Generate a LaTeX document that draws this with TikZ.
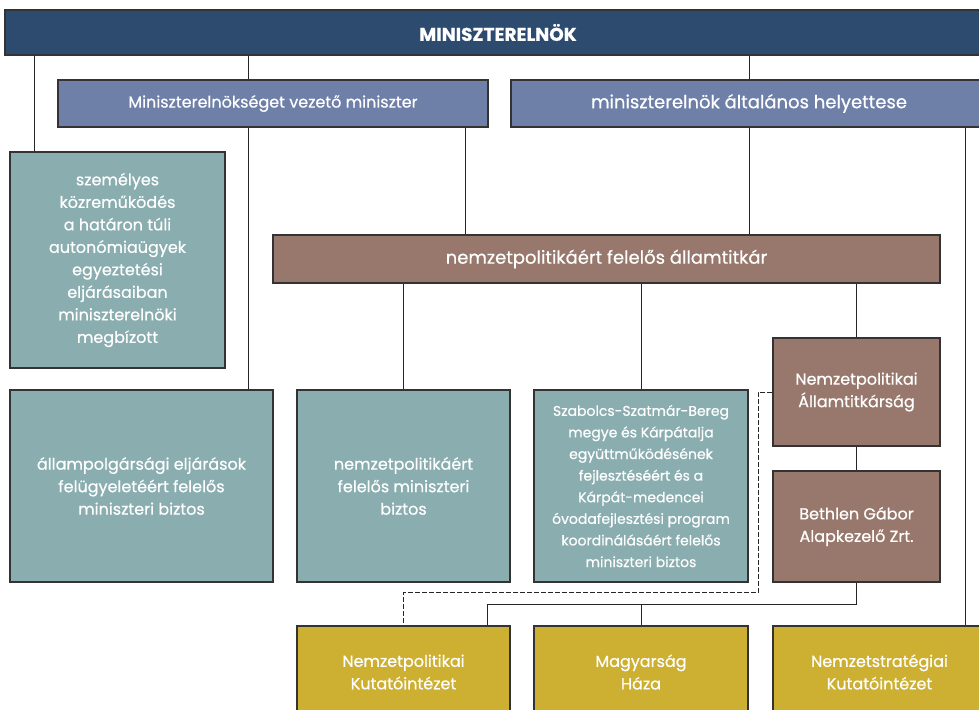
\documentclass[tikz,border=0pt]{standalone}
\usepackage{fontspec}
\setmainfont{Poppins}[FakeBold=0.5]
\usetikzlibrary{backgrounds,calc}

\definecolor{pmblue}{HTML}{2D4A6F}
\definecolor{minblue}{HTML}{6F80A8}
\definecolor{bizteal}{HTML}{8AADB0}
\definecolor{titkbrown}{HTML}{98786C}
\definecolor{intgold}{HTML}{CDB032}

\tikzset{
  box/.style={draw=black!80, line width=1.2pt, text=white, align=center, inner sep=0pt,
    font=\fontsize{16}{22.5}\selectfont},
  link/.style={draw=black!85, line width=1pt},
}

\begin{document}
\begin{tikzpicture}[x=1pt,y=-1pt]
\useasboundingbox (0,0) rectangle (979,709);
\clip (0,0) rectangle (979,709);

% levels from the top
\node[box, fill=pmblue, minimum width=986, minimum height=45, font=\fontsize{18.5}{20}\bfseries] (pm) at (498,32.5) {MINISZTERELNÖK};
\node[box, fill=minblue, minimum width=430, minimum height=47] (minister) at (273,103.5) {Miniszterelnökséget vezető miniszter};
\node[box, fill=minblue, minimum width=476, minimum height=47, font=\fontsize{18}{20}\selectfont] (deputy) at (749,103.5) {miniszterelnök általános helyettese};
\node[box, fill=bizteal, minimum width=215, minimum height=216] (personal) at (117.5,260)
  {személyes\\közreműködés\\a határon túli\\autonómiaügyek\\egyeztetési\\eljárásaiban\\miniszterelnöki\\megbízott};
\node[box, fill=titkbrown, minimum width=667, minimum height=48, font=\fontsize{18}{20}\selectfont] (secretary) at (606.5,259) {nemzetpolitikáért felelős államtitkár};

\node[box, fill=bizteal, minimum width=263, minimum height=192] (citizen) at (141.5,486)
  {állampolgársági eljárások\\felügyeletéért felelős\\miniszteri biztos};
\node[box, fill=bizteal, minimum width=213, minimum height=192] (policycomm) at (403.5,486)
  {nemzetpolitikáért\\felelős miniszteri\\biztos};
\node[box, fill=bizteal, minimum width=214, minimum height=192, font=\fontsize{14}{21.6}\selectfont] (szabolcs) at (641,486)
  {Szabolcs-Szatmár-Bereg\\megye és Kárpátalja\\együttműködésének\\fejlesztéséért és a\\Kárpát-medencei\\óvodafejlesztési program\\koordinálásáért felelős\\miniszteri biztos};
\node[box, fill=titkbrown, minimum width=167, minimum height=108] (secretariat) at (856.5,392)
  {Nemzetpolitikai\\Államtitkárság};
\node[box, fill=titkbrown, minimum width=167, minimum height=111] (bethlen) at (856.5,526.5)
  {Bethlen Gábor\\Alapkezelő Zrt.};

\node[box, fill=intgold, minimum width=213, minimum height=92] (npki) at (403.5,672)
  {Nemzetpolitikai\\Kutatóintézet};
\node[box, fill=intgold, minimum width=214, minimum height=92] (haza) at (641,672)
  {Magyarság\\Háza};
\node[box, fill=intgold, minimum width=213, minimum height=92] (nski) at (879.5,672)
  {Nemzetstratégiai\\Kutatóintézet};

% connectors behind the boxes
\begin{scope}[on background layer]
\fill[white] (0,0) rectangle (979,709);
\coordinate (c1) at ($(personal.north west)+(25,0)$);
\coordinate (c2) at ($(citizen.north east)+(-25,0)$);
\coordinate (c3) at ($(minister.south east)+(-23,0)$);
\coordinate (c4) at ($(nski.north east)+(-21,0)$);
\coordinate (c5) at ($(npki.north east)+(-23,0)$);
\coordinate (fork) at ($(bethlen.south)+(0,22)$);
\coordinate (d1) at ($(secretariat.west)+(-14,0)$);
\coordinate (d2) at ($(npki.north)+(0,-33)$);
\draw[link] (c1 |- pm.south) -- (c1);
\draw[link] (c2 |- pm.south) -- (c2);
\draw[link] (pm.south -| deputy) -- (secretary.north -| deputy);
\draw[link] (c3) -- (c3 |- secretary.north);
\draw[link] (c4 |- deputy.south) -- (c4);
\draw[link] (secretary.south -| policycomm) -- (policycomm.north);
\draw[link] (secretary.south -| szabolcs) -- (szabolcs.north);
\draw[link] (secretary.south -| secretariat) -- (secretariat.north);
\draw[link] (secretariat) -- (bethlen);
\draw[link] (bethlen.south) -- (fork) -| (c5);
\draw[link] (fork -| haza) -- (haza.north);
\draw[link, dash pattern=on 5pt off 2pt] (secretariat.west) -- (d1) |- (d2) -- (npki.north);
\end{scope}
\end{tikzpicture}
\end{document}
